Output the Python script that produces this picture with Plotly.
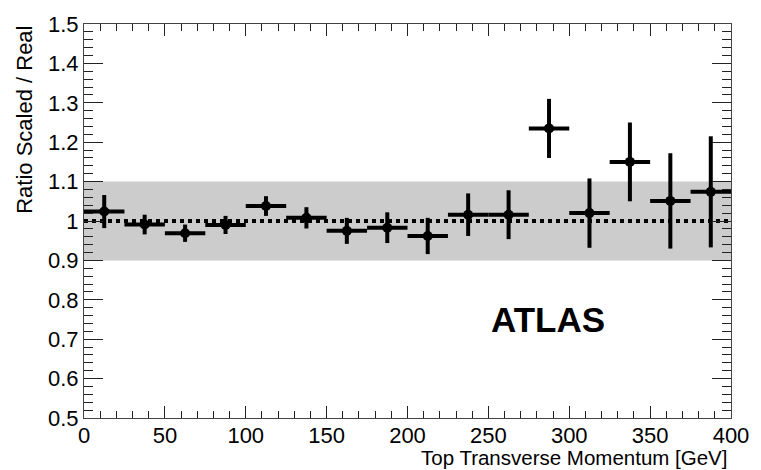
import plotly.graph_objects as go

# Bin edges of the top transverse momentum spectrum (GeV)
bin_low = [0, 25, 50, 75, 100, 125, 150, 175, 200, 225, 250, 275, 300, 325, 350, 375]
bin_width = 25

# Ratio scaled / real per bin and its statistical uncertainty
ratio = [1.024, 0.991, 0.969, 0.990, 1.038, 1.008, 0.975, 0.983,
         0.962, 1.016, 1.016, 1.235, 1.020, 1.150, 1.051, 1.074]
ratio_err = [0.042, 0.025, 0.022, 0.023, 0.025, 0.027, 0.033, 0.039,
             0.046, 0.054, 0.062, 0.075, 0.088, 0.100, 0.121, 0.141]

# Systematic band around unity
band_low, band_high = 0.9, 1.1
reference_level = 1.0

x_ticks = [0, 50, 100, 150, 200, 250, 300, 350, 400]
y_ticks = [0.5, 0.6, 0.7, 0.8, 0.9, 1.0, 1.1, 1.2, 1.3, 1.4, 1.5]
y_tick_text = ["0.5", "0.6", "0.7", "0.8", "0.9", "1", "1.1", "1.2", "1.3", "1.4", "1.5"]

centers = [lo + bin_width / 2 for lo in bin_low]
half_width = [bin_width / 2] * len(bin_low)

FONT = "Liberation Sans, Arial, sans-serif"

fig = go.Figure()

fig.add_trace(go.Scatter(
    x=centers, y=ratio, mode="markers",
    marker=dict(color="black", size=10, symbol="circle"),
    error_x=dict(type="data", array=half_width, visible=True,
                 color="black", thickness=4, width=0),
    error_y=dict(type="data", array=ratio_err, visible=True,
                 color="black", thickness=4, width=0),
    showlegend=False, hoverinfo="x+y",
))

# grey uncertainty band and dotted unity line
fig.add_shape(type="rect", xref="x", yref="y", x0=0, x1=400,
              y0=band_low, y1=band_high, fillcolor="#cccccc",
              line=dict(width=0), layer="below")
fig.add_shape(type="line", xref="x", yref="y", x0=0, x1=400,
              y0=reference_level, y1=reference_level,
              line=dict(color="black", width=4, dash="4px,4px"), layer="below")

fig.add_annotation(x=287, y=0.749, xref="x", yref="y", text="<b>ATLAS</b>",
                   showarrow=False, font=dict(family=FONT, size=35, color="black"),
                   xanchor="center", yanchor="middle")

fig.add_annotation(x=0.997, y=-0.1, xref="paper", yref="paper",
                   text="Top Transverse Momentum [GeV]", showarrow=False,
                   font=dict(family=FONT, size=20.5, color="black"),
                   xanchor="right", yanchor="middle")
fig.add_annotation(x=-0.093, y=1.0, xref="paper", yref="paper",
                   text="Ratio Scaled / Real", showarrow=False, textangle=-90,
                   font=dict(family=FONT, size=22, color="black"),
                   xanchor="center", yanchor="top")

axis_common = dict(
    showgrid=False, zeroline=False, showline=True, linecolor="#444444",
    linewidth=1.2, mirror="allticks", ticks="inside", tickcolor="#222222",
    tickwidth=1.2, tickfont=dict(family=FONT, size=22, color="black"),
)

fig.update_xaxes(range=[0, 400], tickvals=x_ticks, ticklen=12,
                 ticklabelstandoff=-3,
                 minor=dict(dtick=10, ticks="inside", ticklen=7,
                            tickcolor="#222222", tickwidth=1.2),
                 **axis_common)
fig.update_yaxes(range=[0.5, 1.5], tickvals=y_ticks, ticktext=y_tick_text,
                 ticklen=19,
                 minor=dict(dtick=0.02, ticks="inside", ticklen=9,
                            tickcolor="#222222", tickwidth=1.2),
                 **axis_common)

fig.update_layout(
    width=761, height=470,
    margin=dict(l=84, r=19, t=15, b=52),
    paper_bgcolor="white", plot_bgcolor="white",
    font=dict(family=FONT, color="black"),
)

fig.write_html("out.html")
